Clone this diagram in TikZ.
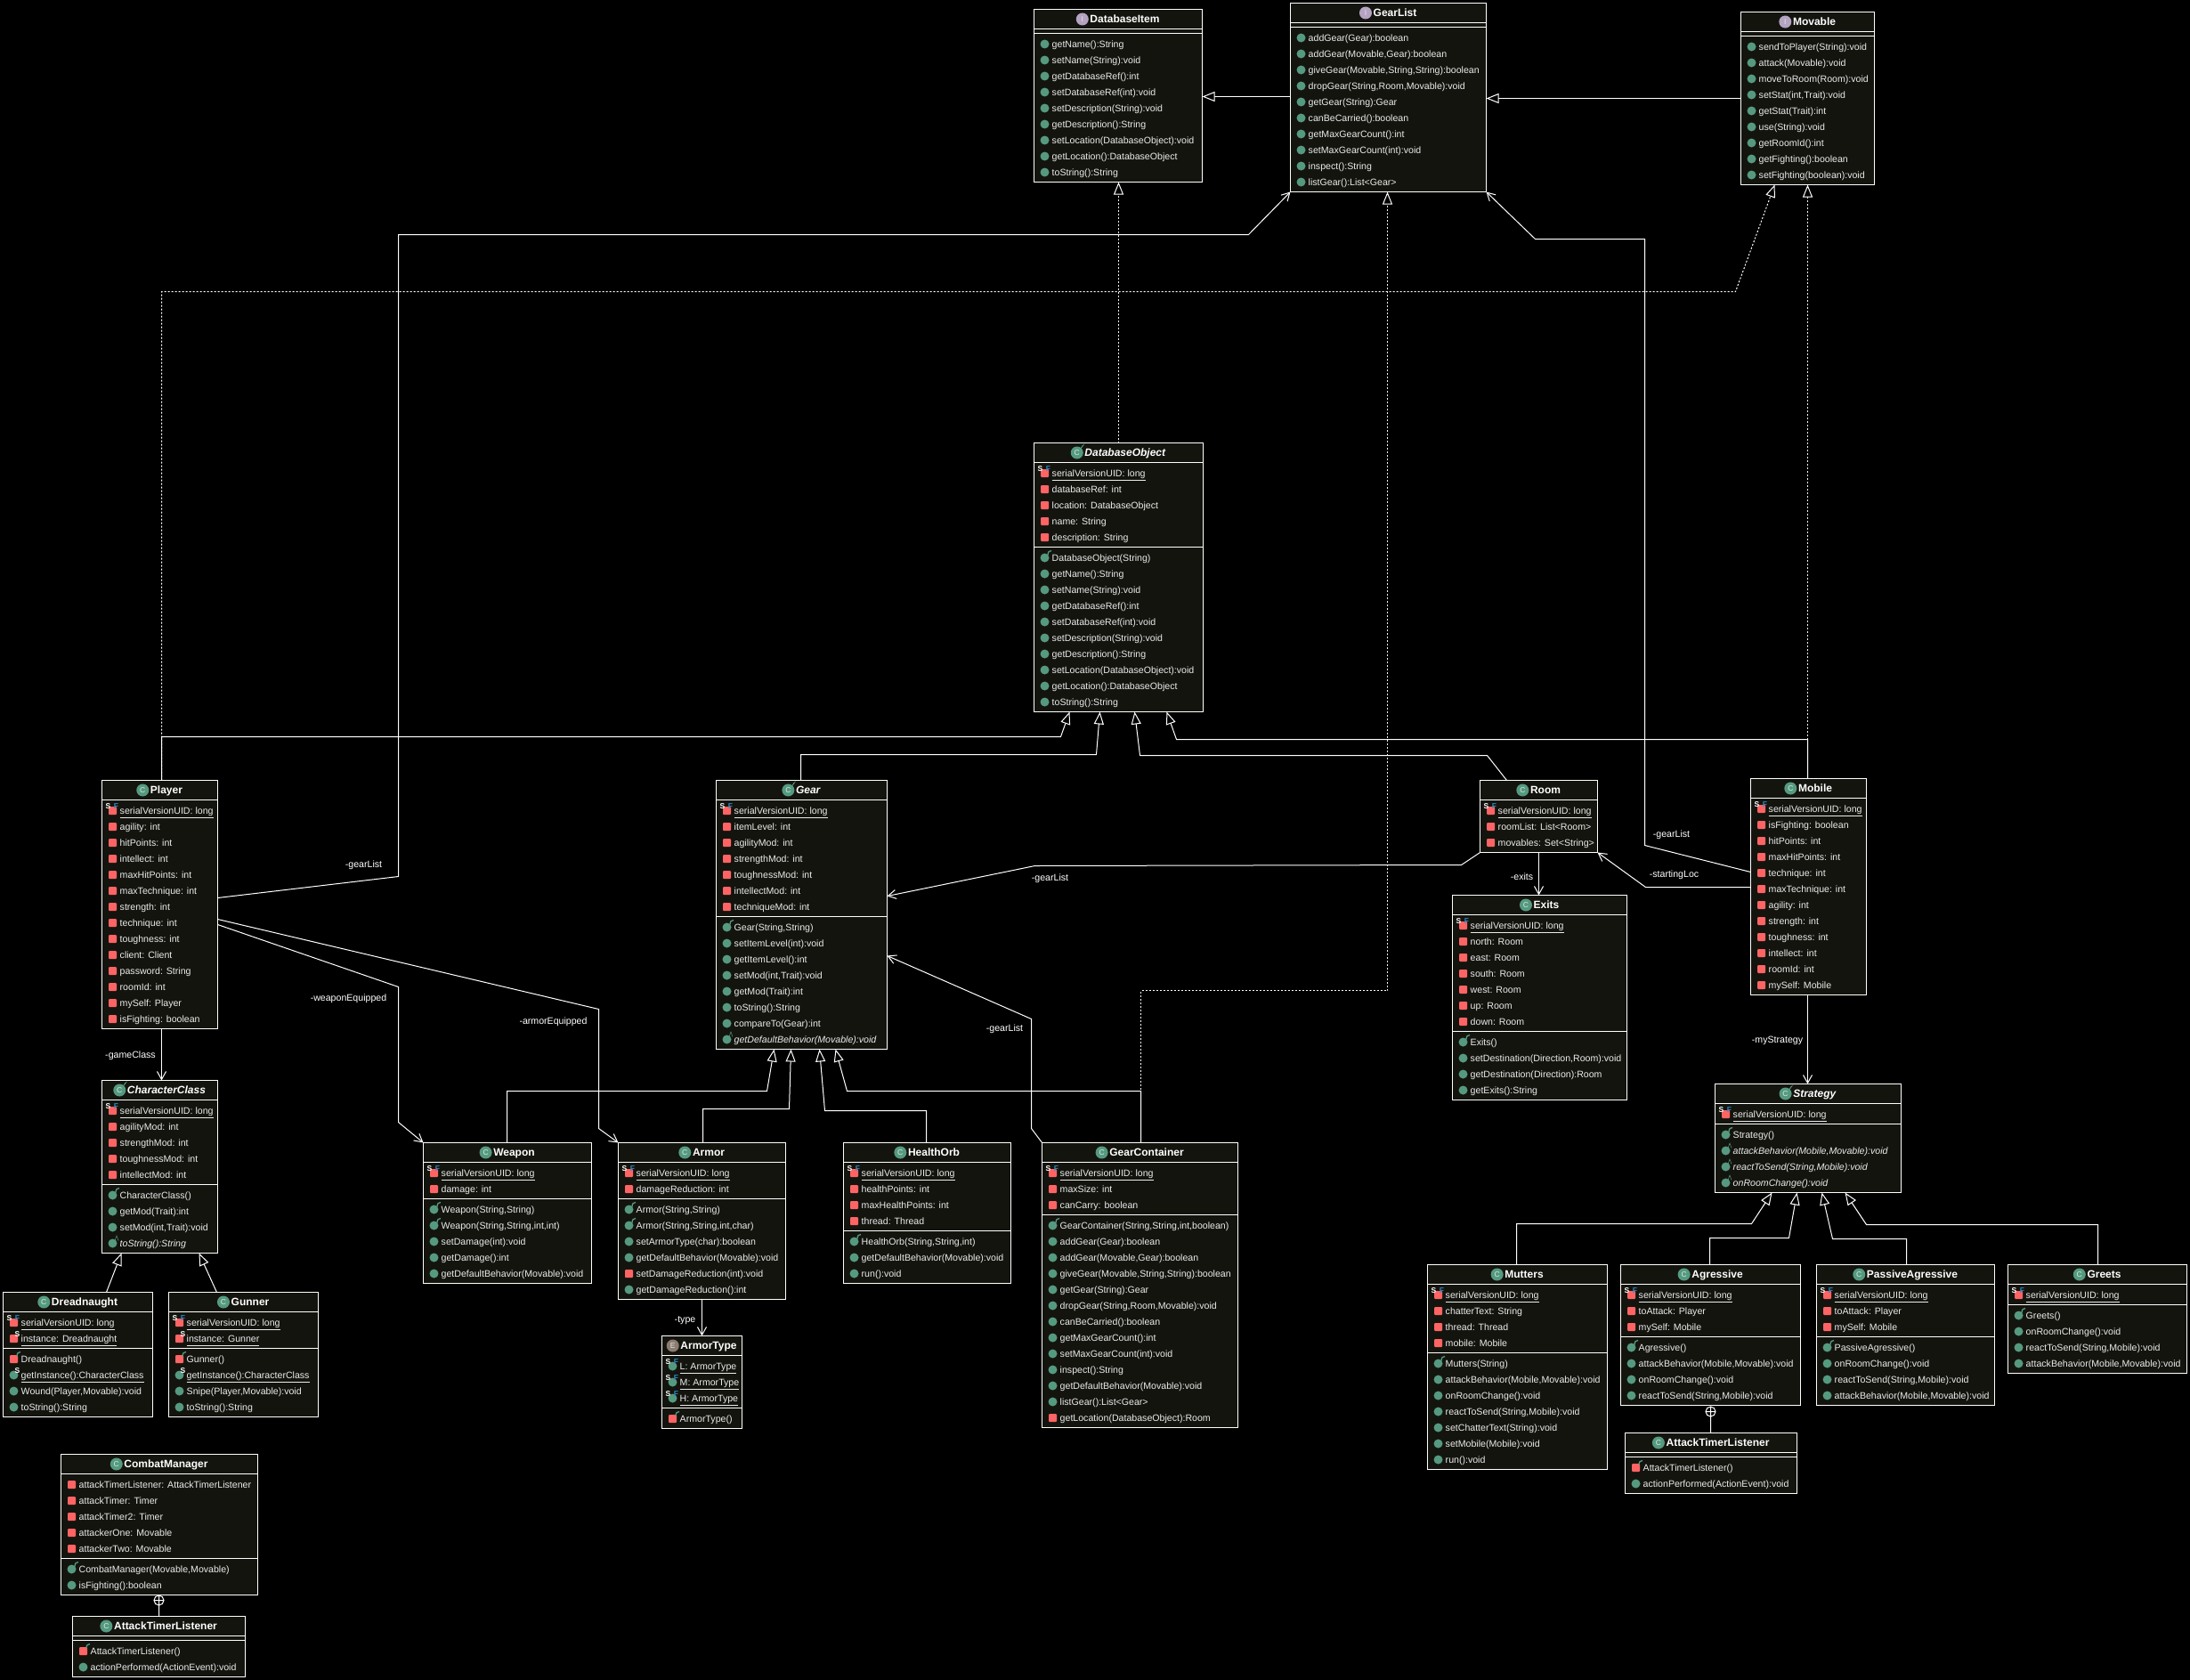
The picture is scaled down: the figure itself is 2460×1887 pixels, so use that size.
\documentclass[tikz,border=0pt]{standalone}
\usepackage{fontspec}
\setmainfont{Liberation Sans}
\usetikzlibrary{arrows.meta}
\definecolor{boxfill}{HTML}{14140F}
\definecolor{umlgreen}{HTML}{559A80}
\definecolor{umlred}{HTML}{FF6464}
\definecolor{umlpurple}{HTML}{B5A3C2}
\definecolor{umlbrown}{HTML}{8C7B70}
\definecolor{umlblue}{HTML}{2B8CC4}
\definecolor{umltext}{HTML}{EBEBEB}
\definecolor{iconletter}{HTML}{D8EAE2}
\newcount\rc \newcount\cy \newcount\nid
\newbox\ulbox
\def\Tx[#1](#2)#3{\global\advance\nid by 1 \node[#1] (t\the\nid) at (#2) {#3};}
\def\plainw#1{#1}
\def\ulw#1{\setbox\ulbox\hbox{#1}\rlap{\copy\ulbox}\vrule width\wd\ulbox height -3.5pt depth 4.5pt }
\def\itw#1{\textit{#1}}
\def\sqr{\fill[umlred,rounded corners=1pt] (-4.5,-4.5) rectangle (4.5,4.5);}
\def\cir{\fill[umlgreen] (0,0) circle (5pt);}
\def\hook{\draw[umlgreen,line width=1.3pt] (7.5,-8) .. controls (5,-8) and (3.5,-6.5) .. (3.5,-3);}
\def\sS(#1,#2){\Tx[sfmark,text=white](#1,#2){S}}
\def\sF(#1,#2){\Tx[sfmark,text=umlblue](#1,#2){F}}
\expandafter\def\csname iconf\endcsname{\sqr}
\expandafter\def\csname iconp\endcsname{\sqr}
\expandafter\def\csname iconsf\endcsname{\sqr\sS(-5,-5)\sF(4,-5)}
\expandafter\def\csname icons\endcsname{\sqr\sS(4,-5)}
\expandafter\def\csname iconm\endcsname{\cir}
\expandafter\def\csname iconc\endcsname{\cir\hook}
\expandafter\def\csname iconpc\endcsname{\sqr\hook}
\expandafter\def\csname iconsm\endcsname{\cir\sS(4,-5)}
\expandafter\def\csname icona\endcsname{\cir\draw[umlgreen,line width=.5pt] (2.5,-3) -- (4.5,-8.5) -- (6.5,-3);}
\expandafter\def\csname icone\endcsname{\cir\sS(-5,-5)\sF(4,-5)}
\expandafter\let\csname wrapf\endcsname\plainw
\expandafter\let\csname wrapp\endcsname\plainw
\expandafter\let\csname wrapm\endcsname\plainw
\expandafter\let\csname wrapc\endcsname\plainw
\expandafter\let\csname wrappc\endcsname\plainw
\expandafter\let\csname wrapsf\endcsname\ulw
\expandafter\let\csname wraps\endcsname\ulw
\expandafter\let\csname wrapsm\endcsname\ulw
\expandafter\let\csname wrape\endcsname\ulw
\expandafter\let\csname wrapa\endcsname\itw
\def\RcountR#1#2{\advance\rc by 1 }
\def\RdrawR#1#2{%
  \edef\yy{\the\cy}\edef\yb{\the\numexpr\cy+4\relax}%
  \begin{scope}[shift={(\ux+12,\yy)}]\csname icon#1\endcsname\end{scope}%
  \Tx[rowtext](\ux+20,\yb){\csname wrap#1\endcsname{#2}}%
  \advance\cy by 18 }
% #1 name, #2 x1, #3 x2, #4 top, #5 icon, #6 title text, #7 fields, #8 methods
\newcommand\UBox[8]{%
  \def\ux{#2}%
  \let\R\RcountR
  \rc=0 #7\relax \edef\nf{\the\rc}%
  \rc=0 #8\relax \edef\nm{\the\rc}%
  \edef\bw{\the\numexpr#3-#2\relax}%
  \edef\bh{\the\numexpr22+5+18*\nf+\ifnum\nm>0 5+18*\nm\else 0\fi\relax}%
  \node[ubox,minimum width=\bw pt,minimum height=\bh pt] (#1) at (#2,#4) {};%
  \edef\sepa{\the\numexpr#4+22\relax}%
  \edef\sepb{\the\numexpr#4+27+18*\nf\relax}%
  \edef\tyc{\the\numexpr#4+11\relax}%
  \edef\tyb{\the\numexpr#4+15\relax}%
  \draw[usep] (#1.west |- 0,\sepa) -- (#1.east |- 0,\sepa);%
  \ifnum\nm>0 \draw[usep] (#1.west |- 0,\sepb) -- (#1.east |- 0,\sepb);\fi
  \node[titletext] (#1-t) at ([xshift=7.5pt]#1.north |- 0,\tyb) {#6};%
  \csname hd#5\endcsname{#1}%
  \let\R\RdrawR
  \cy=\numexpr#4+34\relax #7\relax
  \cy=\numexpr\sepb+12\relax #8\relax
}
\def\hdgen#1#2#3{%
  \fill[#2] ([xshift=-8.5pt]#1-t.west |- 0,\tyc) circle (7pt);%
  \global\advance\nid by 1
  \node[iconltr] (t\the\nid) at ([xshift=-8.5pt]#1-t.west |- 0,\tyc) {#3};}
\def\hdC#1{\hdgen{#1}{umlgreen}{C}}
\def\hdA#1{\hdgen{#1}{umlgreen}{C}\draw[umlgreen,line width=1pt] ([xshift=-5pt,yshift=4pt]#1-t.west |- 0,\tyc) .. controls +(1,-1) and +(2,-2) .. ([xshift=-2.5pt,yshift=7.5pt]#1-t.west |- 0,\tyc);}
\def\hdI#1{\hdgen{#1}{umlpurple}{I}}
\def\hdE#1{\hdgen{#1}{umlbrown}{E}}
\tikzset{
  ubox/.style={draw=white,fill=boxfill,line width=1pt,inner sep=0,outer sep=0,anchor=north west,rectangle},
  usep/.style={draw=white,line width=1pt},
  rowtext/.style={anchor=base west,inner sep=0,text=umltext,font=\fontsize{10.6}{13}\selectfont},
  titletext/.style={anchor=base,inner sep=0,text=white,font=\fontsize{12}{14}\selectfont\bfseries},
  iconltr/.style={anchor=center,inner sep=0,text=iconletter,font=\fontsize{8.5}{9}\selectfont},
  sfmark/.style={anchor=center,inner sep=0,font=\fontsize{8.5}{9}\selectfont\bfseries},
  lbl/.style={anchor=base,inner sep=0,text=white,font=\fontsize{10.6}{13}\selectfont},
  assoc/.style={draw=white,line width=1pt,-{Straight Barb[length=9pt,width=10pt,line width=1pt]}},
  inherit/.style={draw=white,line width=1pt,-{Triangle[open,length=14pt,width=11pt,fill=black,line width=1pt]}},
  realizes/.style={inherit,dash pattern=on 2pt off 2pt},
  plainline/.style={draw=white,line width=1pt},
}
\begin{document}
\begin{tikzpicture}[x=1pt,y=-1pt]
\fill[black] (0,0) rectangle (2460,1887);
\useasboundingbox (0,0) rectangle (2460,1887);
\begin{scope}[shift={(0.5,0.5)}]

\UBox{dbitem}{1161}{1350}{10}{I}{DatabaseItem}{}{\R{m}{getName():String}\R{m}{setName(String):void}\R{m}{getDatabaseRef():int}\R{m}{setDatabaseRef(int):void}\R{m}{setDescription(String):void}\R{m}{getDescription():String}\R{m}{setLocation(DatabaseObject):void}\R{m}{getLocation():DatabaseObject}\R{m}{toString():String}}

\UBox{gearlist}{1449}{1669}{3}{I}{GearList}{}{\R{m}{addGear(Gear):boolean}\R{m}{addGear(Movable,Gear):boolean}\R{m}{giveGear(Movable,String,String):boolean}\R{m}{dropGear(String,Room,Movable):void}\R{m}{getGear(String):Gear}\R{m}{canBeCarried():boolean}\R{m}{getMaxGearCount():int}\R{m}{setMaxGearCount(int):void}\R{m}{inspect():String}\R{m}{listGear():List<Gear>}}

\UBox{movable}{1955}{2105}{13}{I}{Movable}{}{\R{m}{sendToPlayer(String):void}\R{m}{attack(Movable):void}\R{m}{moveToRoom(Room):void}\R{m}{setStat(int,Trait):void}\R{m}{getStat(Trait):int}\R{m}{use(String):void}\R{m}{getRoomId():int}\R{m}{getFighting():boolean}\R{m}{setFighting(boolean):void}}

\UBox{dbo}{1161}{1351}{497}{A}{\textit{DatabaseObject}}{\R{sf}{serialVersionUID: long}\R{f}{databaseRef: int}\R{f}{location: DatabaseObject}\R{f}{name: String}\R{f}{description: String}}{\R{c}{DatabaseObject(String)}\R{m}{getName():String}\R{m}{setName(String):void}\R{m}{getDatabaseRef():int}\R{m}{setDatabaseRef(int):void}\R{m}{setDescription(String):void}\R{m}{getDescription():String}\R{m}{setLocation(DatabaseObject):void}\R{m}{getLocation():DatabaseObject}\R{m}{toString():String}}

\UBox{player}{114}{244}{876}{C}{Player}{\R{sf}{serialVersionUID: long}\R{f}{agility: int}\R{f}{hitPoints: int}\R{f}{intellect: int}\R{f}{maxHitPoints: int}\R{f}{maxTechnique: int}\R{f}{strength: int}\R{f}{technique: int}\R{f}{toughness: int}\R{f}{client: Client}\R{f}{password: String}\R{f}{roomId: int}\R{f}{mySelf: Player}\R{f}{isFighting: boolean}}{}

\UBox{charclass}{114}{244}{1213}{A}{\textit{CharacterClass}}{\R{sf}{serialVersionUID: long}\R{f}{agilityMod: int}\R{f}{strengthMod: int}\R{f}{toughnessMod: int}\R{f}{intellectMod: int}}{\R{c}{CharacterClass()}\R{m}{getMod(Trait):int}\R{m}{setMod(int,Trait):void}\R{a}{toString():String}}

\UBox{dread}{3}{171}{1451}{C}{Dreadnaught}{\R{sf}{serialVersionUID: long}\R{s}{instance: Dreadnaught}}{\R{pc}{Dreadnaught()}\R{sm}{getInstance():CharacterClass}\R{m}{Wound(Player,Movable):void}\R{m}{toString():String}}

\UBox{gunner}{189}{357}{1451}{C}{Gunner}{\R{sf}{serialVersionUID: long}\R{s}{instance: Gunner}}{\R{pc}{Gunner()}\R{sm}{getInstance():CharacterClass}\R{m}{Snipe(Player,Movable):void}\R{m}{toString():String}}

\UBox{combat}{68}{289}{1633}{C}{CombatManager}{\R{f}{attackTimerListener: AttackTimerListener}\R{f}{attackTimer: Timer}\R{f}{attackTimer2: Timer}\R{f}{attackerOne: Movable}\R{f}{attackerTwo: Movable}}{\R{c}{CombatManager(Movable,Movable)}\R{m}{isFighting():boolean}}

\UBox{atlone}{81}{275}{1815}{C}{AttackTimerListener}{}{\R{pc}{AttackTimerListener()}\R{m}{actionPerformed(ActionEvent):void}}

\UBox{gear}{804}{996}{876}{A}{\textit{Gear}}{\R{sf}{serialVersionUID: long}\R{f}{itemLevel: int}\R{f}{agilityMod: int}\R{f}{strengthMod: int}\R{f}{toughnessMod: int}\R{f}{intellectMod: int}\R{f}{techniqueMod: int}}{\R{c}{Gear(String,String)}\R{m}{setItemLevel(int):void}\R{m}{getItemLevel():int}\R{m}{setMod(int,Trait):void}\R{m}{getMod(Trait):int}\R{m}{toString():String}\R{m}{compareTo(Gear):int}\R{a}{getDefaultBehavior(Movable):void}}

\UBox{weapon}{475}{664}{1283}{C}{Weapon}{\R{sf}{serialVersionUID: long}\R{f}{damage: int}}{\R{c}{Weapon(String,String)}\R{c}{Weapon(String,String,int,int)}\R{m}{setDamage(int):void}\R{m}{getDamage():int}\R{m}{getDefaultBehavior(Movable):void}}

\UBox{armor}{694}{882}{1283}{C}{Armor}{\R{sf}{serialVersionUID: long}\R{f}{damageReduction: int}}{\R{c}{Armor(String,String)}\R{c}{Armor(String,String,int,char)}\R{m}{setArmorType(char):boolean}\R{m}{getDefaultBehavior(Movable):void}\R{p}{setDamageReduction(int):void}\R{m}{getDamageReduction():int}}

\UBox{armortype}{743}{833}{1500}{E}{ArmorType}{\R{e}{L: ArmorType}\R{e}{M: ArmorType}\R{e}{H: ArmorType}}{\R{pc}{ArmorType()}}

\UBox{healthorb}{947}{1135}{1283}{C}{HealthOrb}{\R{sf}{serialVersionUID: long}\R{f}{healthPoints: int}\R{f}{maxHealthPoints: int}\R{f}{thread: Thread}}{\R{c}{HealthOrb(String,String,int)}\R{m}{getDefaultBehavior(Movable):void}\R{m}{run():void}}

\UBox{gcont}{1170}{1390}{1283}{C}{GearContainer}{\R{sf}{serialVersionUID: long}\R{f}{maxSize: int}\R{f}{canCarry: boolean}}{\R{c}{GearContainer(String,String,int,boolean)}\R{m}{addGear(Gear):boolean}\R{m}{addGear(Movable,Gear):boolean}\R{m}{giveGear(Movable,String,String):boolean}\R{m}{getGear(String):Gear}\R{m}{dropGear(String,Room,Movable):void}\R{m}{canBeCarried():boolean}\R{m}{getMaxGearCount():int}\R{m}{setMaxGearCount(int):void}\R{m}{inspect():String}\R{m}{getDefaultBehavior(Movable):void}\R{m}{listGear():List<Gear>}\R{p}{getLocation(DatabaseObject):Room}}

\UBox{room}{1662}{1794}{876}{C}{Room}{\R{sf}{serialVersionUID: long}\R{f}{roomList: List<Room>}\R{f}{movables: Set<String>}}{}

\UBox{exits}{1631}{1827}{1005}{C}{Exits}{\R{sf}{serialVersionUID: long}\R{f}{north: Room}\R{f}{east: Room}\R{f}{south: Room}\R{f}{west: Room}\R{f}{up: Room}\R{f}{down: Room}}{\R{c}{Exits()}\R{m}{setDestination(Direction,Room):void}\R{m}{getDestination(Direction):Room}\R{m}{getExits():String}}

\UBox{mobile}{1966}{2096}{874}{C}{Mobile}{\R{sf}{serialVersionUID: long}\R{f}{isFighting: boolean}\R{f}{hitPoints: int}\R{f}{maxHitPoints: int}\R{f}{technique: int}\R{f}{maxTechnique: int}\R{f}{agility: int}\R{f}{strength: int}\R{f}{toughness: int}\R{f}{intellect: int}\R{f}{roomId: int}\R{f}{mySelf: Mobile}}{}

\UBox{strategy}{1926}{2135}{1217}{A}{\textit{Strategy}}{\R{sf}{serialVersionUID: long}}{\R{c}{Strategy()}\R{a}{attackBehavior(Mobile,Movable):void}\R{a}{reactToSend(String,Mobile):void}\R{a}{onRoomChange():void}}

\UBox{mutters}{1603}{1805}{1420}{C}{Mutters}{\R{sf}{serialVersionUID: long}\R{f}{chatterText: String}\R{f}{thread: Thread}\R{f}{mobile: Mobile}}{\R{c}{Mutters(String)}\R{m}{attackBehavior(Mobile,Movable):void}\R{m}{onRoomChange():void}\R{m}{reactToSend(String,Mobile):void}\R{m}{setChatterText(String):void}\R{m}{setMobile(Mobile):void}\R{m}{run():void}}

\UBox{agressive}{1820}{2022}{1420}{C}{Agressive}{\R{sf}{serialVersionUID: long}\R{f}{toAttack: Player}\R{f}{mySelf: Mobile}}{\R{c}{Agressive()}\R{m}{attackBehavior(Mobile,Movable):void}\R{m}{onRoomChange():void}\R{m}{reactToSend(String,Mobile):void}}

\UBox{passive}{2040}{2240}{1420}{C}{PassiveAgressive}{\R{sf}{serialVersionUID: long}\R{f}{toAttack: Player}\R{f}{mySelf: Mobile}}{\R{c}{PassiveAgressive()}\R{m}{onRoomChange():void}\R{m}{reactToSend(String,Mobile):void}\R{m}{attackBehavior(Mobile,Movable):void}}

\UBox{greets}{2255}{2456}{1420}{C}{Greets}{\R{sf}{serialVersionUID: long}}{\R{c}{Greets()}\R{m}{onRoomChange():void}\R{m}{reactToSend(String,Mobile):void}\R{m}{attackBehavior(Mobile,Movable):void}}

\UBox{atltwo}{1825}{2018}{1609}{C}{AttackTimerListener}{}{\R{pc}{AttackTimerListener()}\R{m}{actionPerformed(ActionEvent):void}}

% interface hierarchy
\draw[inherit] (gearlist.west |- 0,108) -- (dbitem.east |- 0,108);
\draw[inherit] (movable.west |- 0,110) -- (gearlist.east |- 0,110);
\draw[realizes] (1256,0 |- dbo.north) -- (1256,0 |- dbitem.south);
\draw[realizes] (2030,0 |- mobile.north) -- (2030,0 |- movable.south);
\draw[realizes] (181,0 |- player.north) -- (181,327) -- (1949,327) -- (1993,0 |- movable.south);
\draw[realizes] (1281,0 |- gcont.north) -- (1281,1112) -- (1558,1112) -- (1558,0 |- gearlist.south);

% to DatabaseObject
\draw[inherit] (181,0 |- player.north) -- (181,827) -- (1191,827) -- (1201,0 |- dbo.south);
\draw[inherit] (899,0 |- gear.north) -- (899,847) -- (1231,847) -- (1235,0 |- dbo.south);
\draw[inherit] (1692,0 |- room.north) -- (1670,848) -- (1280,848) -- (1274,0 |- dbo.south);
\draw[inherit] (2030,0 |- mobile.north) -- (2030,830) -- (1321,830) -- (1310,0 |- dbo.south);

% to Gear
\draw[inherit] (569,0 |- weapon.north) -- (569,1225) -- (861,1225) -- (869,0 |- gear.south);
\draw[inherit] (789,0 |- armor.north) -- (789,1245) -- (886,1245) -- (888,0 |- gear.south);
\draw[inherit] (1040,0 |- healthorb.north) -- (1040,1247) -- (926,1247) -- (920,0 |- gear.south);
\draw[inherit] (1281,0 |- gcont.north) -- (1281,1225) -- (951,1225) -- (938,0 |- gear.south);

% to CharacterClass
\draw[inherit] (119,0 |- dread.north) -- (136,0 |- charclass.south);
\draw[inherit] (243,0 |- gunner.north) -- (223,0 |- charclass.south);

% to Strategy
\draw[inherit] (1703,0 |- mutters.north) -- (1703,1374) -- (1967,1374) -- (1990,0 |- strategy.south);
\draw[inherit] (1920,0 |- agressive.north) -- (1920,1390) -- (2009,1390) -- (2018,0 |- strategy.south);
\draw[inherit] (2141,0 |- passive.north) -- (2141,1391) -- (2058,1391) -- (2046,0 |- strategy.south);
\draw[inherit] (2356,0 |- greets.north) -- (2356,1375) -- (2096,1375) -- (2072,0 |- strategy.south);

% associations
\draw[assoc] (player.east |- 0,1008) -- (447,984) -- (447,263) -- (1402,263) -- (gearlist.south west);
\draw[assoc] (mobile.west |- 0,979) -- (1847,949) -- (1847,268) -- (1724,268) -- (gearlist.south east);
\draw[assoc] (mobile.west |- 0,996) -- (1848,996) -- (room.south east);
\draw[assoc] (room.south west) -- (1641,971) -- (1162,972) -- (gear.east |- 0,1006);
\draw[assoc] (gcont.north west) -- (1158,1267) -- (1158,1144) -- (gear.east |- 0,1073);
\draw[assoc] (1728,0 |- room.south) -- (1728,0 |- exits.north);
\draw[assoc] (2030,0 |- mobile.south) -- (2030,0 |- strategy.north);
\draw[assoc] (181,0 |- player.south) -- (181,0 |- charclass.north);
\draw[assoc] (788,0 |- armor.south) -- (788,0 |- armortype.north);
\draw[assoc] (player.east |- 0,1038) -- (447,1108) -- (447,1260) -- (weapon.north west);
\draw[assoc] (player.east |- 0,1032) -- (672,1133) -- (672,1267) -- (armor.north west);

% inner class links
\coordinate (plusone) at (178,1797);
\coordinate (plustwo) at (1921,1585);
\draw[plainline] (plusone) circle (5.5pt) (178,1791.5) -- (178,0 |- atlone.north) (172.5,1797) -- (183.5,1797);
\draw[plainline] (plustwo) circle (5.5pt) (1921,1579.5) -- (1921,0 |- atltwo.north) (1915.5,1585) -- (1926.5,1585);

% labels
\node[lbl] (l1) at (408,974) {-gearList};
\node[lbl] (l2) at (391,1124) {-weaponEquipped};
\node[lbl] (l3) at (621,1150) {-armorEquipped};
\node[lbl] (l4) at (146,1188) {-gameClass};
\node[lbl] (l5) at (769,1485) {-type};
\node[lbl] (l6) at (1128,1158) {-gearList};
\node[lbl] (l7) at (1179,989) {-gearList};
\node[lbl] (l8) at (1877,940) {-gearList};
\node[lbl] (l9) at (1880,985) {-startingLoc};
\node[lbl] (l10) at (1709,988) {-exits};
\node[lbl] (l11) at (1996,1171) {-myStrategy};
\end{scope}
\end{tikzpicture}
\end{document}
